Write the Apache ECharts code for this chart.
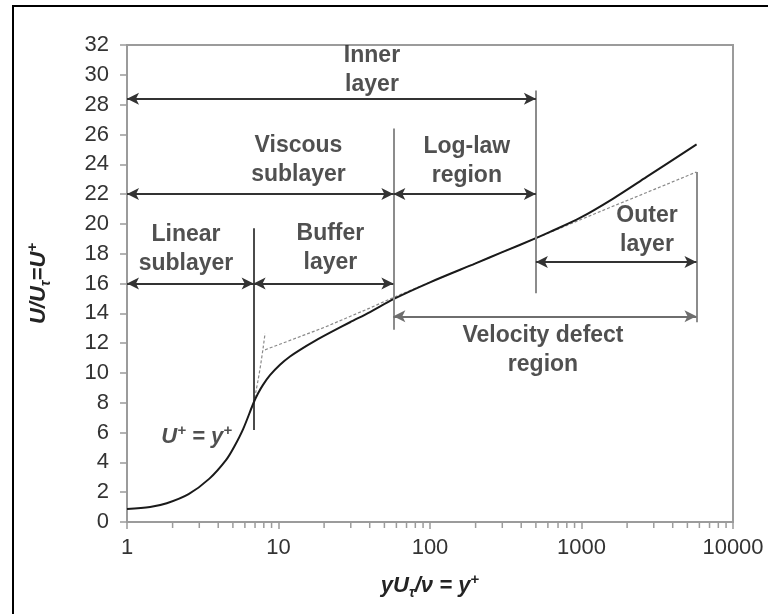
<!DOCTYPE html>
<html>
<head>
<meta charset="utf-8">
<script src="https://cdn.jsdelivr.net/npm/echarts/dist/echarts.min.js"></script>
<style>
  html, body { margin: 0; padding: 0; background: #fff; }
  #chart { width: 768px; height: 614px; }
</style>
</head>
<body>
<div id="chart"></div>
<script>
// Mean velocity profile of a turbulent boundary layer, U+ against y+ (log scale)
const yPlus = [1, 1.42, 1.83, 2.55, 3.5, 4.5, 5.1, 5.85, 6.85, 7.32, 7.9, 8.79, 10.23, 11.91, 13.87, 17.42, 21.88, 29.65, 40.2, 57.3, 100, 200, 300, 500, 620, 977, 1620, 2690, 5750];
const uPlus = [0.87, 1.01, 1.26, 1.87, 2.91, 4.15, 5.05, 6.25, 8.0, 8.62, 9.2, 9.85, 10.55, 11.1, 11.55, 12.15, 12.7, 13.4, 14.08, 14.95, 16.08, 17.35, 18.1, 19.04, 19.46, 20.4, 21.7, 23.15, 25.33];

// Log-law line (dashed), extended below and above the log-law region
const logLawY = [8.15, 20, 40, 57.3, 500, 800, 1500, 3000, 5740];
const logLawU = [11.55, 13.05, 14.35, 15.06, 19.04, 19.9, 21.05, 22.3, 23.48];

// Linear law U+ = y+ extended past the sublayer (dashed)
const linearY = [6.85, 7.5, 8.15];
const linearU = [8.0, 10.1, 12.65];

// Region dividers: [y+, U+ bottom, U+ top]
const dividers = [[6.85, 6.17, 19.7], [57.3, 12.9, 26.4], [500, 15.35, 28.95], [5740, 13.4, 23.48]];
// Double arrows: [y+ start, y+ end, U+]
const spans = [[1, 500, 28.4], [1, 57.3, 22], [57.3, 500, 22], [1, 6.85, 16], [6.85, 57.3, 16], [500, 5740, 17.45], [57.3, 5740, 13.8]];
// Region names: [y+, U+, text]
const regionLabels = [
  [41.4, 30.3, 'Inner\nlayer'],
  [13.55, 24.3, 'Viscous\nsublayer'],
  [175, 24.2, 'Log-law\nregion'],
  [2.45, 18.3, 'Linear\nsublayer'],
  [22, 18.35, 'Buffer\nlayer'],
  [2705, 19.6, 'Outer\nlayer'],
  [557, 11.55, 'Velocity defect\nregion']
];
const lawLabel = [2.88, 5.7];

// Axis ticks
const xMajor = [1, 10, 100, 1000, 10000];
const xMinor = [2, 3, 4, 5, 6, 7, 8, 9, 20, 30, 40, 50, 60, 70, 80, 90, 200, 300, 400, 500, 600, 700, 800, 900, 2000, 3000, 4000, 5000, 6000, 7000, 8000, 9000];
const yMin = 0, yMax = 32, yStep = 2;

const FONT = "'Liberation Sans', Arial, Helvetica, sans-serif";
const AXIS_GREY = '#9b9b9b';
const INK = '#242424';

const zip = (a, b) => a.map((v, i) => [v, b[i]]);

const dividerLines = dividers.map(([x, y0, y1], i) => [
  { coord: [x, y0], symbol: 'none', lineStyle: { color: i === 0 ? '#1e1e1e' : '#8c8c8c', width: i === 0 ? 1.6 : 2, type: 'solid' } },
  { coord: [x, y1], symbol: 'none' }
]);
const spanLines = spans.map(([x0, x1, y], i) => [
  { coord: [x0, y], symbol: 'arrow', lineStyle: { color: i === 6 ? '#6e6e6e' : '#333', width: 1.8, type: 'solid' } },
  { coord: [x1, y], symbol: 'arrow' }
]);

const chart = echarts.init(document.getElementById('chart'), null, { renderer: 'canvas' });

const richName = {
  b: { fontFamily: FONT, fontSize: 22, fontWeight: 'bold', fontStyle: 'italic', color: INK, lineHeight: 28 },
  s: { fontFamily: FONT, fontSize: 14, fontWeight: 'bold', fontStyle: 'italic', color: INK, lineHeight: 12, verticalAlign: 'bottom' },
  p: { fontFamily: FONT, fontSize: 15, fontWeight: 'bold', fontStyle: 'italic', color: INK, lineHeight: 16, verticalAlign: 'top' }
};

chart.setOption({
  animation: false,
  backgroundColor: '#fff',
  grid: { left: 127, top: 45, right: 35, bottom: 92, show: true, borderColor: AXIS_GREY, borderWidth: 2 },
  xAxis: {
    type: 'log', logBase: 10, min: xMajor[0], max: xMajor[xMajor.length - 1],
    axisLine: { show: true, lineStyle: { color: AXIS_GREY, width: 2 } },
    axisTick: { show: true, length: 7, lineStyle: { color: AXIS_GREY, width: 1.5 } },
    splitLine: { show: false },
    axisLabel: { margin: 15, fontFamily: FONT, fontSize: 22, color: '#333', formatter: v => String(Math.round(v)) },
    name: '{b|yU}{s|τ}{b|/ν = y}{p|+}',
    nameLocation: 'middle', nameGap: 50,
    nameTextStyle: { rich: richName }
  },
  yAxis: {
    type: 'value', min: yMin, max: yMax, interval: yStep,
    axisLine: { show: true, lineStyle: { color: AXIS_GREY, width: 2 } },
    axisTick: { show: true, length: 7, lineStyle: { color: AXIS_GREY, width: 1.5 } },
    splitLine: { show: false },
    axisLabel: { margin: 18, fontFamily: FONT, fontSize: 22, color: '#333' },
    name: '{b|U/U}{s|τ}{b|=U}{p|+}',
    nameLocation: 'middle', nameGap: 74, nameRotate: 90,
    nameTextStyle: { rich: richName }
  },
  graphic: [
    { type: 'rect', shape: { x: 13, y: 6, width: 800, height: 700 }, style: { fill: 'none', stroke: '#000', lineWidth: 2 }, silent: true }
  ],
  series: [
    {
      type: 'line', data: zip(logLawY, logLawU), showSymbol: false, silent: true,
      lineStyle: { color: '#8a8a8a', width: 1.2, type: [3, 2] }
    },
    {
      type: 'line', data: zip(linearY, linearU), showSymbol: false, silent: true, smooth: true,
      lineStyle: { color: '#8a8a8a', width: 1.2, type: [3, 2] }
    },
    {
      type: 'line', data: zip(yPlus, uPlus), showSymbol: false, silent: true, smooth: 0.3,
      lineStyle: { color: '#1a1a1a', width: 2 },
      markLine: {
        silent: true, animation: false,
        symbolSize: [9, 12],
        label: { show: false },
        emphasis: { disabled: true },
        data: dividerLines.concat(spanLines)
      }
    },
    {
      type: 'custom', silent: true, clip: false,
      data: xMinor.map(v => [v, yMin]),
      renderItem: (params, api) => {
        const p = api.coord([api.value(0), api.value(1)]);
        return { type: 'line', shape: { x1: p[0], y1: p[1], x2: p[0], y2: p[1] + 6 }, style: { stroke: AXIS_GREY, lineWidth: 1.5 } };
      }
    },
    {
      type: 'scatter', silent: true, symbolSize: 1, itemStyle: { color: 'rgba(0,0,0,0)' },
      data: regionLabels,
      label: {
        show: true, position: 'inside', formatter: p => p.data[2],
        fontFamily: FONT, fontSize: 23, fontWeight: 'bold', color: INK, lineHeight: 29, align: 'center'
      }
    },
    {
      type: 'scatter', silent: true, symbolSize: 1, itemStyle: { color: 'rgba(0,0,0,0)' },
      data: [lawLabel],
      label: {
        show: true, position: 'inside',
        formatter: '{b|U}{p|+}{b| = y}{p|+}',
        rich: richName
      }
    }
  ]
});
</script>
</body>
</html>
